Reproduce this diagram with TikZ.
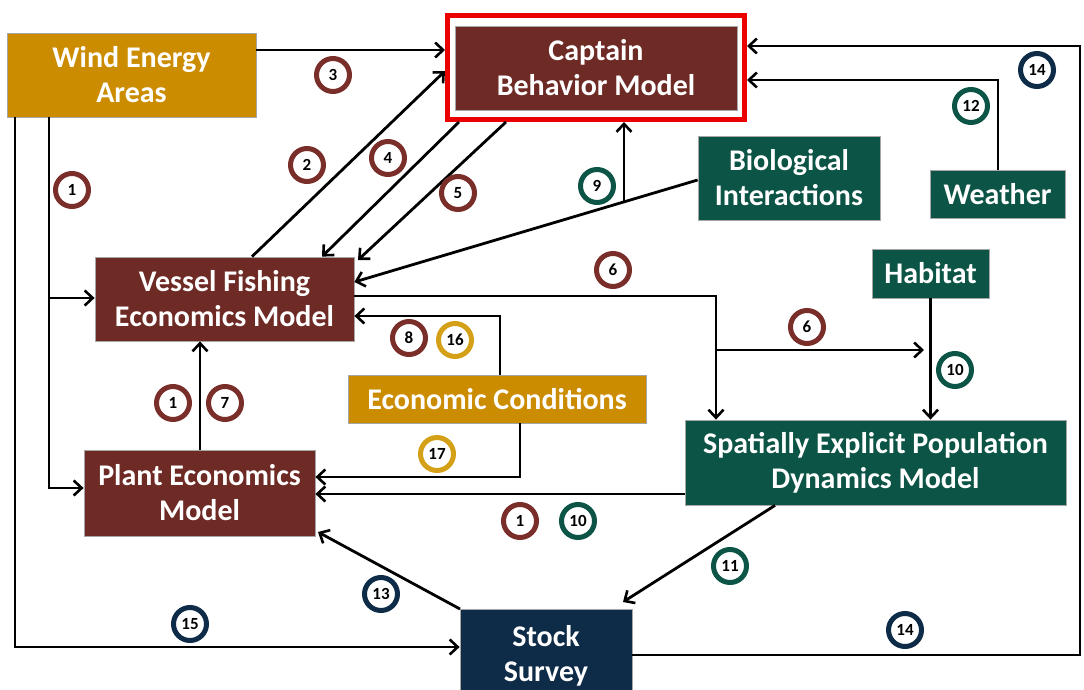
\documentclass[tikz,border=0pt]{standalone}
\usepackage{fontspec}
\setmainfont{Carlito}
\usetikzlibrary{arrows.meta}
\definecolor{cmaroon}{RGB}{110,42,37}
\definecolor{cgold}{RGB}{204,140,0}
\definecolor{cgreen}{RGB}{12,84,70}
\definecolor{cnavy}{RGB}{14,44,72}
\definecolor{rmaroon}{RGB}{122,46,42}
\definecolor{rgold}{RGB}{212,160,23}
\definecolor{cred}{RGB}{235,0,0}
\tikzset{
  box/.style={rectangle, draw=gray!70, line width=0.8pt, inner sep=0pt, text=white, align=center,
    font=\bfseries\fontsize{30}{35}\selectfont},
  arr/.style={line width=2.8pt, -{Straight Barb[length=8pt,width=15pt,line width=2.6pt]}},
  tag/.style={circle, draw=#1, line width=5pt, fill=white, minimum size=33pt, inner sep=0pt,
    font=\bfseries\fontsize{17}{17}\selectfont, text=black}
}
\begin{document}
\begin{tikzpicture}[x=1pt,y=-1pt]
\useasboundingbox (0,0) rectangle (1084,690);
\clip (0,0) rectangle (1084,690);
% boxes
\node[box, fill=cgold, minimum width=249pt, minimum height=84pt] (wind) at (131.5,75) {Wind Energy\\Areas};
\node[box, fill=cmaroon, minimum width=282pt, minimum height=84pt] (capt) at (596,68) {Captain\\Behavior Model};
\node[rectangle, draw=cred, line width=5pt, minimum width=297pt, minimum height=104pt, inner sep=0pt] (hl) at (596,67.5) {};
\node[box, fill=cgreen, minimum width=182pt, minimum height=84pt] (bio) at (789,178) {Biological\\Interactions};
\node[box, fill=cgreen, minimum width=135pt, minimum height=48pt] (weather) at (997.5,194) {Weather};
\node[box, fill=cmaroon, minimum width=259pt, minimum height=84pt] (vessel) at (224.5,299) {Vessel Fishing\\Economics Model};
\node[box, fill=cgreen, minimum width=117pt, minimum height=49pt] (habitat) at (930.5,273.5) {Habitat};
\node[box, fill=cgold, minimum width=298pt, minimum height=48pt] (econ) at (497,399) {Economic Conditions};
\node[box, fill=cgreen, minimum width=381pt, minimum height=85pt] (sepdm) at (875.5,462.5) {Spatially Explicit Population\\Dynamics Model};
\node[box, fill=cmaroon, minimum width=231pt, minimum height=86pt] (plant) at (199.5,493) {Plant Economics\\Model};
\node[box, fill=cnavy, minimum width=172pt, minimum height=92pt, anchor=north] (stock) at (546,609) {Stock\\Survey};
% connectors
\draw[arr] (wind.east |- 0,50) -- (hl.west |- 0,50);
\draw[arr] (15,0 |- wind.south) -- (15,647) -- (stock.west |- 0,647);
\draw[arr] (49,0 |- wind.south) -- (49,488) -- (plant.west |- 0,488);
\draw[arr] (49,298) -- (vessel.west |- 0,298);
\draw[arr] (252,0 |- vessel.north) -- (hl.west |- 0,71);
\draw[arr] (459,0 |- hl.south) -- (322,0 |- vessel.north);
\draw[arr] (506,0 |- hl.south) -- (358,260);
\coordinate (b9) at (624,202);
\draw[arr] (bio.west |- 0,180) -- (vessel.east |- 0,282);
\draw[arr] (b9) -- (624,0 |- hl.south);
\draw[arr] (998,0 |- weather.north) -- (998,80) -- (hl.east |- 0,80);
\draw[arr] (stock.east |- 0,655) -- (1080,655) -- (1080,46) -- (hl.east |- 0,46);
\coordinate (h6) at (924,350);
\draw[arr] (vessel.east |- 0,296) -- (716,296) -- (716,0 |- sepdm.north);
\draw[arr] (716,350) -- (h6);
\draw[arr] (habitat.south) -- (habitat.south |- sepdm.north);
\draw[arr] (500,0 |- econ.north) -- (500,316) -- (vessel.east |- 0,316);
\draw[arr] (520,0 |- econ.south) -- (520,477) -- (plant.east |- 0,477);
\draw[arr] (sepdm.west |- 0,494) -- (plant.east |- 0,494);
\draw[arr] (200,0 |- plant.north) -- (200,0 |- vessel.south);
\draw[arr] (775,0 |- sepdm.south) -- (623,602);
\draw[arr] (460,0 |- stock.north) -- (318,532);
% tags
\node[tag=rmaroon] (t3) at (333,75) {3};
\node[tag=rmaroon] (t1a) at (72,190) {1};
\node[tag=rmaroon] (t2) at (307,165) {2};
\node[tag=rmaroon] (t4) at (388,158) {4};
\node[tag=rmaroon] (t5) at (458,193) {5};
\node[tag=cgreen] (t9) at (597,186) {9};
\node[tag=cgreen] (t12) at (971,106) {12};
\node[tag=cnavy] (t14a) at (1037,70) {14};
\node[tag=rmaroon] (t6a) at (613,270) {6};
\node[tag=rmaroon] (t6b) at (807,327) {6};
\node[tag=rmaroon] (t8) at (409,338) {8};
\node[tag=rgold] (t16) at (455,340) {16};
\node[tag=rmaroon] (t1b) at (173,403) {1};
\node[tag=rmaroon] (t7) at (225,403) {7};
\node[tag=rgold] (t17) at (437,454) {17};
\node[tag=cgreen] (t10a) at (955,370) {10};
\node[tag=rmaroon] (t1c) at (520,521) {1};
\node[tag=cgreen] (t10b) at (578,521) {10};
\node[tag=cgreen] (t11) at (730,566) {11};
\node[tag=cnavy] (t13) at (381,594) {13};
\node[tag=cnavy] (t15) at (190,624) {15};
\node[tag=cnavy] (t14b) at (905,630) {14};
\end{tikzpicture}
\end{document}
